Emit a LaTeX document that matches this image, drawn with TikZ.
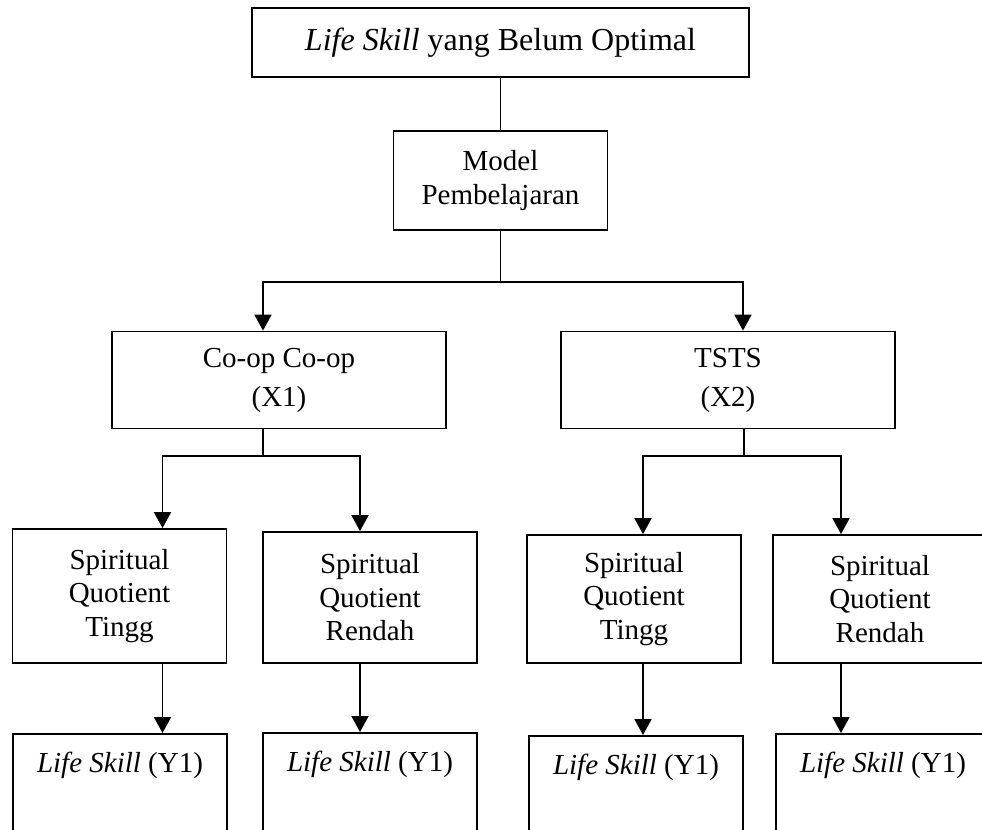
\documentclass[tikz,border=0pt]{standalone}
\usepackage{fontspec}
\setmainfont{Liberation Serif}
\usetikzlibrary{arrows.meta}
\begin{document}
\begin{tikzpicture}[x=0.5pt,y=-0.5pt,
  box/.style={draw, line width=0.9pt, inner sep=0pt, align=center, font=\fontsize{14.5}{16.75}\selectfont},
  xbox/.style={box, font=\fontsize{14.5}{19.5}\selectfont, minimum width=167pt, minimum height=48.5pt},
  sqbox/.style={box, minimum width=107pt},
  lsbox/.style={box, minimum width=107pt, minimum height=70pt, anchor=north},
  txt/.style={inner sep=0pt, font=\fontsize{14.5}{16.75}\selectfont},
  arr/.style={-{Triangle[width=8.5pt,length=8pt]}, line width=0.9pt},
  ln/.style={line width=0.9pt}]
\useasboundingbox (0,0) rectangle (982,830);
\clip (0,0) rectangle (982,830);
% boxes
\node[box, font=\fontsize{16}{18}\selectfont, minimum width=248.5pt, minimum height=34.5pt] (top) at (500.5,42.5) {\textit{Life Skill} yang Belum Optimal};
\node[box, minimum width=107pt, minimum height=49.5pt] (model) at (500.5,180.5) {Model\\Pembelajaran};
\node[xbox] (coop) at (279,380) {Co-op Co-op\\(X1)};
\node[xbox] (tsts) at (728,380) {TSTS\\(X2)};
\node[sqbox, minimum height=67pt] (sq1) at (119.5,596) {Spiritual\\Quotient\\Tingg};
\node[sqbox, minimum height=65.5pt] (sq2) at (370,597.5) {Spiritual\\Quotient\\Rendah};
\node[sqbox, minimum height=64pt] (sq3) at (634,599) {Spiritual\\Quotient\\Tingg};
\node[sqbox, minimum height=64pt] (sq4) at (880,599) {Spiritual\\Quotient\\Rendah};
\node[lsbox] (ls1) at (120,733) {};
\node[lsbox] (ls2) at (370,732) {};
\node[lsbox] (ls3) at (636,735) {};
\node[lsbox] (ls4) at (883,733) {};
\node[txt] (t1) at (120,765) {\textit{Life Skill} (Y1)};
\node[txt] (t2) at (370,764) {\textit{Life Skill} (Y1)};
\node[txt] (t3) at (636,767) {\textit{Life Skill} (Y1)};
\node[txt] (t4) at (883,765) {\textit{Life Skill} (Y1)};
% branch points
\coordinate (bL) at (263,282);
\coordinate (bR) at (743,282);
\coordinate (cm1) at (263,456);
\coordinate (cm2) at (744,456);
\coordinate (c1) at (162.5,456);
\coordinate (c2) at (360,456);
\coordinate (c3) at (643,456);
\coordinate (c4) at (841,456);
% connectors
\draw[ln] (top.south) -- (model.north);
\draw[ln] (model.south) -- (model.south |- bL);
\draw[arr] (model.south |- bL) -- (bL) -- (bL |- coop.north);
\draw[arr] (model.south |- bL) -- (bR) -- (bR |- tsts.north);
\draw[ln] (cm1 |- coop.south) -- (cm1);
\draw[arr] (cm1) -- (c1) -- (c1 |- sq1.north);
\draw[arr] (cm1) -- (c2) -- (c2 |- sq2.north);
\draw[ln] (cm2 |- tsts.south) -- (cm2);
\draw[arr] (cm2) -- (c3) -- (c3 |- sq3.north);
\draw[arr] (cm2) -- (c4) -- (c4 |- sq4.north);
\draw[arr] (c1 |- sq1.south) -- (c1 |- ls1.north);
\draw[arr] (c2 |- sq2.south) -- (c2 |- ls2.north);
\draw[arr] (c3 |- sq3.south) -- (c3 |- ls3.north);
\draw[arr] (c4 |- sq4.south) -- (c4 |- ls4.north);
\end{tikzpicture}
\end{document}
